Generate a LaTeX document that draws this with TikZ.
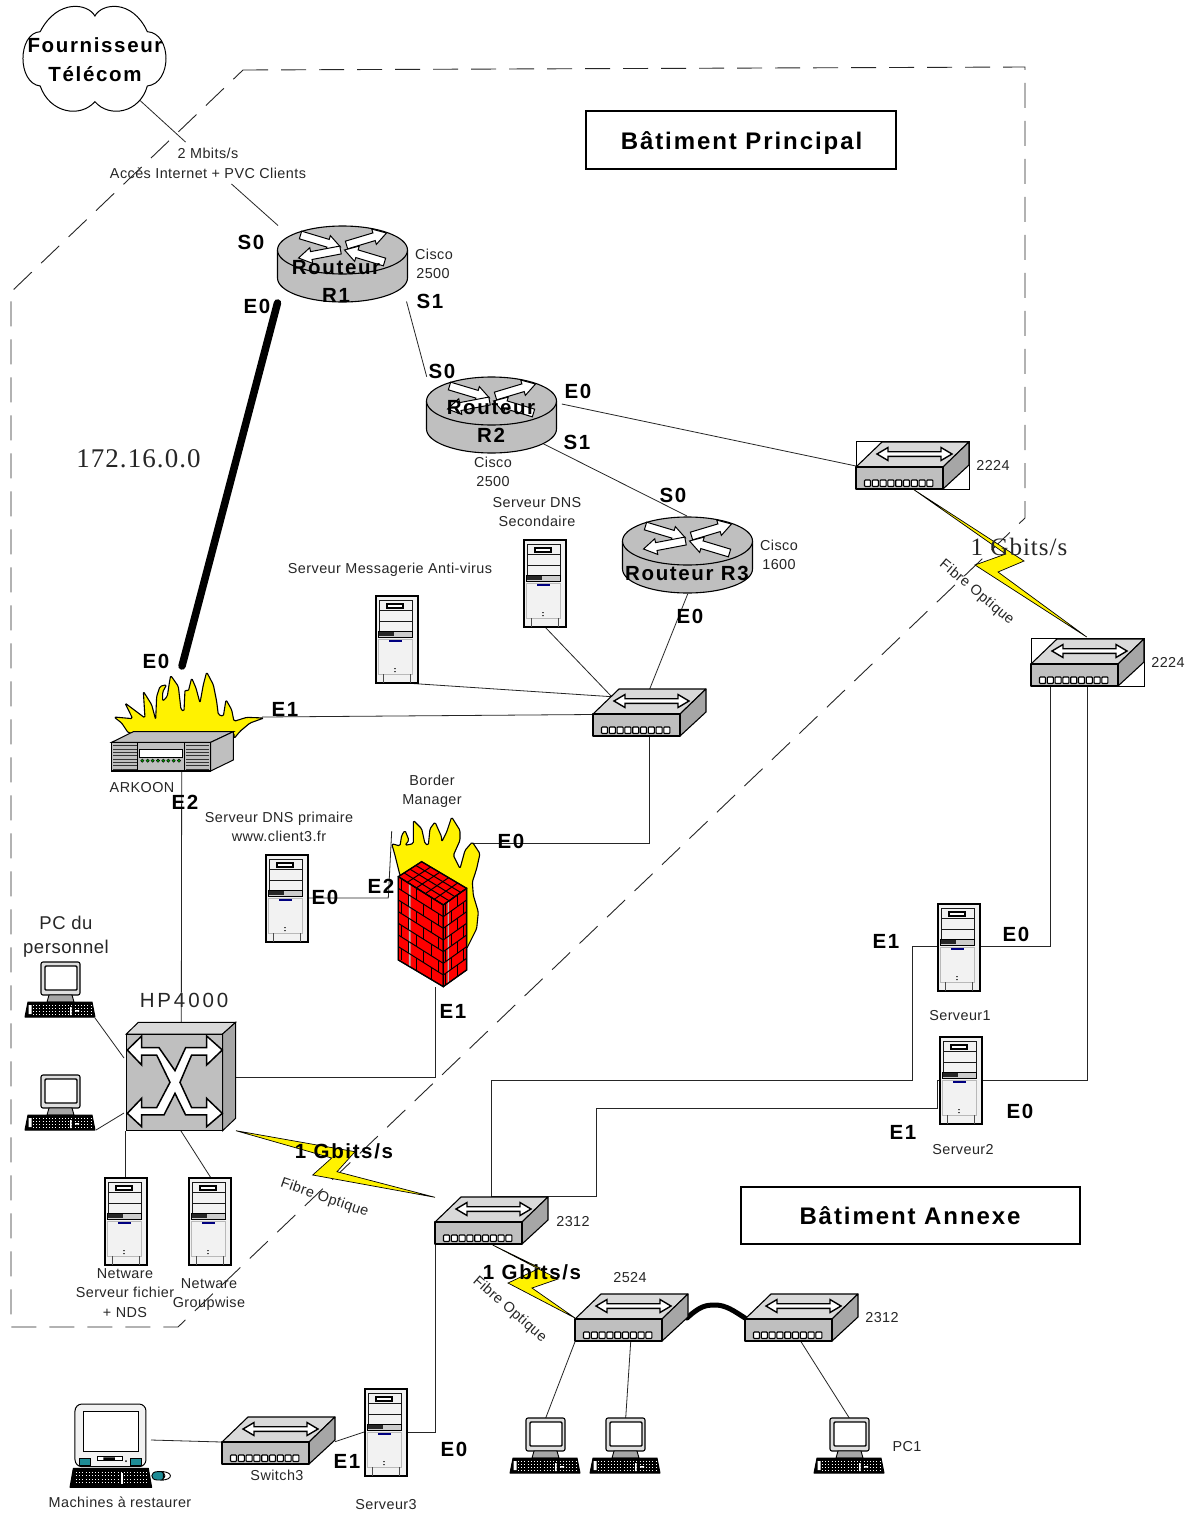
\documentclass[tikz,border=0pt]{standalone}
\usepackage{fontspec}
\setmainfont{Liberation Sans}
\newfontfamily\smf[LetterSpace=3]{Liberation Sans}
\newfontfamily\bdf[LetterSpace=8]{Liberation Sans}
\newfontfamily\wdf[LetterSpace=14]{Liberation Sans}
\newfontfamily\srf[LetterSpace=4]{Liberation Serif}
\usetikzlibrary{calc}
\definecolor{topc}{HTML}{D9D9D9}
\definecolor{midc}{HTML}{BFBFBF}
\definecolor{sidec}{HTML}{A6A6A6}
\definecolor{srvc}{HTML}{F2F2F2}
\definecolor{wallred}{HTML}{FF0000}
\definecolor{tealc}{HTML}{1E8C96}
\newcommand\sarrow[5]{\draw[fill=white,line width=1pt,line join=miter]
 ($(#1)!#3pt!90:(#2)$) -- ($(#2)!#4pt!(#1)!#3pt!-90:(#1)$) -- ($(#2)!#4pt!(#1)!#5pt!-90:(#1)$) -- (#2)
 -- ($(#2)!#4pt!(#1)!#5pt!90:(#1)$) -- ($(#2)!#4pt!(#1)!#3pt!90:(#1)$) -- ($(#1)!#3pt!-90:(#2)$) -- cycle;}
\newcommand\darrow[5]{\draw[fill=white,line width=1.4pt,line join=miter]
 (#1) -- ($(#1)!#4pt!(#2)!#5pt!90:(#2)$) -- ($(#1)!#4pt!(#2)!#3pt!90:(#2)$)
 -- ($(#2)!#4pt!(#1)!#3pt!-90:(#1)$) -- ($(#2)!#4pt!(#1)!#5pt!-90:(#1)$) -- (#2)
 -- ($(#2)!#4pt!(#1)!#5pt!90:(#1)$) -- ($(#2)!#4pt!(#1)!#3pt!90:(#1)$)
 -- ($(#1)!#4pt!(#2)!#3pt!-90:(#2)$) -- ($(#1)!#4pt!(#2)!#5pt!-90:(#2)$) -- cycle;}
\tikzset{
 x=1pt,y=-1pt,
 wire/.style={line width=.8pt,black!85},
 edge/.style={line width=1.1pt,black,line join=round},
 smalllbl/.style={font=\smf\fontsize{14.4}{16}\selectfont,inner sep=0pt,text=black!85,text height=10.3pt,text depth=0pt},
 ifacelbl/.style={font=\bdf\bfseries\fontsize{20.5}{22}\selectfont,inner sep=0pt,text=black,text height=14.7pt,text depth=0pt},
 biglbl/.style={font=\smf\fontsize{18.5}{20}\selectfont,inner sep=0pt,text=black!85,text height=13.2pt,text depth=0pt},
 hplbl/.style={font=\wdf\fontsize{20.5}{22}\selectfont,inner sep=0pt,text=black!85,text height=14.7pt,text depth=0pt},
 seriflbl/.style={font=\srf\fontsize{27}{28}\selectfont,inner sep=0pt,text=black!85,text height=17.5pt,text depth=0pt},
 gbitlbl/.style={font=\srf\fontsize{25}{28}\selectfont,inner sep=0pt,text=black!85,text height=16.5pt,text depth=0pt},
 titlelbl/.style={font=\bdf\bfseries\fontsize{24}{26}\selectfont,inner sep=0pt,text height=17.2pt,text depth=0pt},
 titlerect/.style={draw,line width=2pt,fill=white},
 bolt/.style={fill=yellow,draw=black,line width=.7pt,line join=miter},
 flame/.style={line width=1.1pt,fill=yellow,rounded corners=1.5pt,line join=round},
 pics/switchx/.style={code={
  \draw[edge,fill=topc] (0,0) -- (26,-25) -- (113,-25) -- (87,0) -- cycle;
  \draw[edge,fill=sidec] (87,0) -- (113,-25) -- (113,-2) -- (87,22) -- cycle;
  \draw[edge,fill=midc] (0,0) rectangle (87,22);
  \foreach \i in {0,...,8} {\draw[line width=1.1pt,fill=white,rounded corners=.8pt] ({8.5+\i*7.8},13) rectangle ({14.5+\i*7.8},19.5);}
  \darrow{21,-13}{96,-13}{2.3}{11}{6.5}
 }},
 pics/routerx/.style={code={
  \draw[edge,fill=midc] (-65,0) -- (-65,28) .. controls (-65,41.25) and (-36,52) .. (0,52) .. controls (36,52) and (65,41.25) .. (65,28) -- (65,0) -- cycle;
  \draw[edge,fill=midc] (-65,0) .. controls (-65,-13.25) and (-36,-24) .. (0,-24) .. controls (36,-24) and (65,-13.25) .. (65,0) .. controls (65,13.25) and (36,24) .. (0,24) .. controls (-36,24) and (-65,13.25) .. (-65,0) -- cycle;
  \sarrow{-42,-15}{-2,-3}{4}{13}{8}
  \sarrow{4,-5}{44,-17}{4}{13}{8}
  \sarrow{-2,0}{-44,8}{4}{13}{8}
  \sarrow{42,12}{2,0}{4}{13}{8}
 }},
 pics/srvx/.style={code={
  \draw[line width=1.1pt,fill=srvc] (0,0) rectangle (42,87);
  \draw[line width=.9pt,black!90,fill=srvc] (3,4) rectangle (36,35);
  \draw[line width=.9pt,black!90] (3,14) -- (36,14) (3,25) -- (36,25);
  \draw[line width=1.6pt,fill=white] (11,8) rectangle (27,12);
  \draw[line width=.5pt,fill=gray!40] (2.5,35.5) rectangle (36,41);
  \fill[black!85] (3,36) rectangle (18,39.5);
  \draw[line width=1pt,gray!55] (2.5,43) rectangle (36,78);
  \fill[blue!50!black] (13,43.5) rectangle (26,46);
  \fill[black!70] (18.2,72) rectangle (19.8,73) (18.2,75) rectangle (19.8,76);
  \draw[line width=.6pt,black!70] (7,78) -- (7,87) (34,78) -- (34,87);
 }},
 pics/keysx/.style={code={
  \draw[line width=1pt,fill=black,line join=round] (3,0) -- (67,0) -- (70,15) -- (0,15) -- cycle;
  \foreach \yy in {3,6,9,12} {\draw[white,line width=.7pt,dash pattern=on 1pt off 2.2pt] (8,\yy) -- (66,\yy);}
  \fill[white] (3.5,3) rectangle (6.5,12) (45,5) rectangle (46.5,13) (50,8) rectangle (54,9.5);
 }},
 pics/pcx/.style={code={
  \draw[line width=1.1pt,fill=gray!25,rounded corners=2pt] (16,0) rectangle (55,33);
  \draw[line width=1.4pt,fill=white,rounded corners=1pt] (20,4) rectangle (52,28);
  \draw[line width=.9pt,fill=gray!70] (24,33) -- (47,33) -- (49,40) -- (22,40) -- cycle;
  \pic at (0,40) {keysx};
 }}
}
\begin{document}
\begin{tikzpicture}
\useasboundingbox (0,0) rectangle (1199,1515);
\fill[white] (0,0) rectangle (1199,1515);
% icon anchors
\coordinate (swA) at (856,467);
\coordinate (swB) at (1031,664);
\coordinate (swC) at (593,714);
\coordinate (swD) at (435,1222);
\coordinate (swE) at (575,1319);
\coordinate (swF) at (745,1319);
\coordinate (swG) at (222,1442);
\coordinate (rtA) at (342.5,250);
\coordinate (rtB) at (491.5,401);
\coordinate (rtC) at (687.5,541);
% boundary
\draw[line width=.9pt,black!85,dash pattern=on 25pt off 13pt]
 (243,70) -- (1025,67) -- (1025,518) -- (178,1327) -- (11,1327) -- (11,292) -- cycle;
% free connector ends
\coordinate (a1) at (139.5,100); \coordinate (a2) at (185.5,142);
\coordinate (a3) at (231.5,184); \coordinate (a4) at (278,225.5);
\coordinate (a5) at (406.5,301.5); \coordinate (a6) at (426.7,376.7);
\coordinate (a7) at (277.5,303); \coordinate (a8) at (182,666);
\coordinate (a9) at (561.8,404); \coordinate (a10) at (856,466);
\coordinate (a11) at (533.9,439); \coordinate (a12) at (687,516);
\coordinate (a13) at (687.7,594); \coordinate (a14) at (649.3,690);
\coordinate (a15) at (545,627); \coordinate (a16) at (611.7,696.7);
\coordinate (a17) at (405,683); \coordinate (a18) at (262,717);
\coordinate (a19) at (593,714.5);
\coordinate (a20) at (649.3,737); \coordinate (a21) at (649.3,843); \coordinate (a22) at (471.7,843);
\coordinate (a23) at (181.7,771); \coordinate (a24) at (181.3,1022);
\coordinate (a25) at (308,898); \coordinate (a26) at (388.3,898); \coordinate (a27) at (391.7,831);
\coordinate (a28) at (435.7,987); \coordinate (a29) at (435.7,1077); \coordinate (a30) at (236,1077);
\coordinate (a31) at (95,1018); \coordinate (a32) at (124,1058);
\coordinate (a33) at (96,1130); \coordinate (a34) at (124,1113);
\coordinate (a35) at (125.7,1131); \coordinate (a36) at (125.7,1178);
\coordinate (a37) at (181,1131); \coordinate (a38) at (211,1178);
\coordinate (a39) at (1050.7,686); \coordinate (a40) at (1050.7,946); \coordinate (a41) at (980,946);
\coordinate (a42) at (1087.7,686); \coordinate (a43) at (1087.7,1080); \coordinate (a44) at (982,1080);
\coordinate (a45) at (938,946); \coordinate (a46) at (912.3,946); \coordinate (a47) at (912.3,1080); \coordinate (a48) at (491.7,1080); \coordinate (a49) at (491.7,1198);
\coordinate (a50) at (940.5,1080); \coordinate (a51) at (937.7,1080); \coordinate (a52) at (937.7,1108.3); \coordinate (a53) at (596.8,1108.3); \coordinate (a54) at (596.8,1196.7); \coordinate (a55) at (491.7,1196.7);
\coordinate (a56) at (435,1244); \coordinate (a57) at (435,1432); \coordinate (a58) at (407,1432);
\coordinate (a59) at (335,1441.7); \coordinate (a60) at (365,1431.7);
\coordinate (a61) at (151,1440); \coordinate (a62) at (221.7,1442);
\coordinate (a63) at (575,1341.7); \coordinate (a64) at (545.7,1418);
\coordinate (a65) at (630.7,1341.7); \coordinate (a66) at (625.7,1418);
\coordinate (a67) at (801,1341.7); \coordinate (a68) at (849.3,1418);
\coordinate (a69) at (687,1318); \coordinate (a70) at (745,1318);
% connectors
\draw[wire] (a1) -- (a2);
\draw[wire] (a3) -- (a4);
\draw[wire] (a5) -- (a6);
\draw[line width=7.5pt,line cap=round] (a7) -- (a8);
\draw[wire] (a9) -- (a10);
\draw[wire] (a11) -- (a12);
\draw[wire] (a13) -- (a14);
\draw[wire] (a15) -- (a16);
\draw[wire] (a17) -- (a16);
\draw[wire] (a18) -- (a19);
\draw[wire] (a20) -- (a21) -- (a22);
\draw[wire] (a23) -- (a24);
\draw[wire] (a25) -- (a26) -- (a27);
\draw[wire] (a28) -- (a29) -- (a30);
\draw[wire] (a31) -- (a32);
\draw[wire] (a33) -- (a34);
\draw[wire] (a35) -- (a36);
\draw[wire] (a37) -- (a38);
\draw[wire] (a39) -- (a40) -- (a41);
\draw[wire] (a42) -- (a43) -- (a44);
\draw[wire] (a45) -- (a46) -- (a47) -- (a48) -- (a49);
\draw[wire] (a50) -- (a51) -- (a52) -- (a53) -- (a54) -- (a55);
\draw[wire] (a56) -- (a57) -- (a58);
\draw[wire] (a59) -- (a60);
\draw[wire] (a61) -- (a62);
\draw[wire] (a63) -- (a64);
\draw[wire] (a65) -- (a66);
\draw[wire] (a67) -- (a68);
\draw[line width=5pt,line cap=round] (a69) .. controls (700,1306) and (706,1305) .. (715,1305) .. controls (726,1305) and (734,1311) .. (a70);
% cloud
\begin{scope}[xscale=.3827,yscale=.3333]
\draw[line width=1pt,fill=white] (248,48) .. controls (230,10) and (150,-5) .. (105,95)
 .. controls (45,100) and (45,250) .. (105,258)
 .. controls (130,340) and (210,355) .. (248,305)
 .. controls (285,355) and (365,340) .. (385,258)
 .. controls (450,250) and (450,100) .. (385,95)
 .. controls (345,-5) and (265,10) .. (248,48) -- cycle;
\end{scope}
% routers
\pic at (rtA) {routerx};
\pic at (rtB) {routerx};
\pic at (rtC) {routerx};
% switches
\draw[line width=.8pt] (856,441) rectangle (969,489);
\draw[line width=.8pt] (1031,638) rectangle (1144,686);
\pic at (swA) {switchx};
\pic at (swB) {switchx};
\pic at (swC) {switchx};
\pic at (swD) {switchx};
\pic at (swE) {switchx};
\pic at (swF) {switchx};
\pic at (swG) {switchx};
% servers
\pic at (266,855) {srvx};
\pic at (524,540) {srvx};
\pic at (376,596) {srvx};
\pic at (938,904) {srvx};
\pic at (940,1037) {srvx};
\pic at (365,1389) {srvx};
\pic at (105,1178) {srvx};
\pic at (189,1178) {srvx};
% PCs
\pic at (25,962) {pcx};
\pic at (25,1075) {pcx};
\pic at (510,1418) {pcx};
\pic at (590,1418) {pcx};
\pic at (814,1418) {pcx};
% ARKOON flame
\begin{scope}[shift={(110,668)},scale=.3333]
\draw[flame] (55,195) -- (35,165) -- (12,147) -- (68,152) -- (45,105) -- (105,150) -- (100,70) -- (125,110) -- (137,155) -- (140,85) -- (150,55) -- (170,50) -- (158,72) -- (158,100) -- (172,85) -- (178,45) -- (182,22) -- (205,55) -- (213,125) -- (222,130) -- (225,65) -- (235,70) -- (245,30) -- (258,60) -- (270,105) -- (280,50) -- (290,12) -- (310,50) -- (320,100) -- (325,140) -- (340,145) -- (348,95) -- (365,125) -- (372,160) -- (410,148) -- (462,150) -- (420,165) -- (390,190) -- (372,212) -- (372,195) -- cycle;
\end{scope}
% ARKOON box, Border Manager wall
\begin{scope}[shift={(90,650)},scale=.3333]
\draw[line width=1pt,fill=midc] (65,277) -- (130,245) -- (430,245) -- (362,277) -- cycle;
\draw[line width=1pt,fill=midc] (362,277) -- (430,245) -- (430,330) -- (362,363) -- cycle;
\draw[line width=1.2pt,fill=midc] (65,277) rectangle (362,363);
\draw[line width=.8pt] (143,277) -- (143,363) (283,277) -- (283,363);
\foreach \yy in {287,297,307,317,327,337,347,357} {\draw[line width=.6pt,black!80] (70,\yy) -- (140,\yy) (287,\yy) -- (358,\yy);}
\draw[line width=.6pt,fill=white] (147,297) rectangle (277,322);
\foreach \xx in {157,173,188,204,220,235,251,267} {\fill[green!60!black,draw=black,line width=.4pt] (\xx,332) circle (5);}
\end{scope}
\begin{scope}[shift={(385,812)},scale=.3333]
\draw[flame] (20,95) -- (45,102) -- (50,70) -- (60,55) -- (72,85) -- (60,100) -- (85,95) -- (85,25) -- (110,50) -- (120,95) -- (130,100) -- (135,50) -- (150,30) -- (170,75) -- (170,90) -- (185,60) -- (200,15) -- (225,55) -- (225,85) -- (205,130) -- (225,170) -- (240,115) -- (262,90) -- (285,125) -- (275,170) -- (262,210) -- (265,250) -- (280,300) -- (275,350) -- (245,410) -- (45,190) -- (30,130) -- cycle;
\end{scope}
\begin{scope}[shift={(90,650)},scale=.3333]
\draw[line width=1pt,fill=wallred] (925,680) -- (995,635) -- (1130,715) -- (1060,765) -- cycle;
\draw[line width=1pt,fill=wallred] (925,680) -- (1060,765) -- (1060,1010) -- (925,930) -- cycle;
\draw[line width=1pt,fill=wallred] (1060,765) -- (1130,715) -- (1130,960) -- (1060,1010) -- cycle;
\fill[gray!60] (957,700) -- (962,703) -- (962,950) -- (957,947) -- cycle;
\fill[gray!60] (1073,756) -- (1077,753) -- (1077,998) -- (1073,1001) -- cycle;
\foreach \i in {0,...,6} {
 \draw[line width=1pt] (925,{680+35*\i}) -- (1060,{765+35*\i}) (1060,{765+35*\i}) -- (1130,{715+35*\i});
 \pgfmathsetmacro\off{mod(\i,2)*22}
 \foreach \j in {0,1,2} {
  \pgfmathsetmacro\vx{925+\off+\j*45+10}
  \pgfmathsetmacro\vy{680+35*\i+(\vx-925)*.63}
  \draw[line width=1pt] (\vx,\vy) -- (\vx,\vy+35);
 }
 \pgfmathsetmacro\offb{mod(\i,2)*18}
 \foreach \j in {0,1} {
  \pgfmathsetmacro\wx{1060+\offb+\j*36+8}
  \pgfmathsetmacro\wy{765+35*\i-(\wx-1060)*.714}
  \draw[line width=1pt] (\wx,\wy) -- (\wx,\wy+35);
 }
}
\foreach \t in {.25,.5,.75} {
 \draw[line width=1pt] ($(925,680)!\t!(995,635)$) -- ($(1060,765)!\t!(1130,715)$);
}
\foreach \t in {.2,.4,.6,.8} {
 \draw[line width=1pt] ($(925,680)!\t!(1060,765)$) -- ($(995,635)!\t!(1130,715)$);
}
\draw[line width=1.3pt] (925,680) -- (995,635) -- (1130,715) -- (1130,960) -- (1060,1010) -- (925,930) -- cycle (925,680) -- (1060,765) -- (1130,715) (1060,765) -- (1060,1010);
\end{scope}
% HP4000
\begin{scope}[shift={(10,950)},scale=.3333]
\draw[line width=1pt,fill=topc] (349,252) -- (385,217) -- (677,217) -- (638,252) -- cycle;
\draw[line width=1pt,fill=sidec] (638,252) -- (677,217) -- (677,505) -- (638,542) -- cycle;
\draw[line width=1pt,fill=midc] (349,252) rectangle (638,542);
\draw[line width=1.5pt,fill=white,line join=miter] (352,300) -- (395,258) -- (395,293) -- (447,293) -- (495,362) -- (527,293) -- (590,293) -- (590,258) -- (637,300) -- (590,345) -- (590,315) -- (545,315) -- (510,397) -- (545,473) -- (590,473) -- (590,445) -- (637,490) -- (590,530) -- (590,495) -- (527,495) -- (495,430) -- (462,495) -- (395,495) -- (395,530) -- (352,490) -- (395,445) -- (395,473) -- (440,473) -- (480,397) -- (440,315) -- (395,315) -- (395,345) -- cycle;
\end{scope}
% iMac
\begin{scope}[shift={(40,1380)},scale=.3333]
\draw[line width=1pt,fill=srvc,rounded corners=7pt] (105,72) rectangle (318,260);
\draw[line width=1pt,fill=white] (130,95) rectangle (295,215);
\draw[line width=.8pt,fill=tealc] (118,235) rectangle (150,255) (272,235) rectangle (305,255);
\draw[line width=.7pt,fill=white] (172,230) rectangle (248,242);
\fill[black] (190,232) rectangle (225,240) (258,243) circle (3);
\draw[line width=1pt,fill=black,line join=round] (100,265) -- (325,265) -- (335,322) -- (90,322) -- cycle;
\foreach \yy in {277,287,297,307} {\draw[white,line width=.7pt,dash pattern=on 1pt off 2.2pt] (108,\yy) -- (322,\yy);}
\fill[white] (242,280) rectangle (248,312);
\draw[line width=.9pt,fill=tealc] (370,275) -- (352,275) .. controls (330,275) and (330,300) .. (352,300) -- (370,300) -- cycle;
\draw[line width=.9pt,fill=white] (365,275) .. controls (400,275) and (400,300) .. (365,300) .. controls (378,290) and (378,285) .. (365,275) -- cycle;
\end{scope}
% bolts
\draw[bolt] (913.3,489.3) -- (1005.7,554) -- (975,565) -- (1086.7,637) -- (998,572) -- (1024,561) -- cycle;
\draw[bolt] (236,1130.7) -- (331.7,1158) -- (312.7,1175) -- (435,1197.3) -- (337,1171.7) -- (355,1151.7) -- cycle;
\draw[bolt] (492.7,1245) -- (540,1268) -- (508,1283) -- (575,1318) -- (532,1288) -- (558,1279) -- cycle;
% text
\node[ifacelbl] (t1) at (95,45.5) {Fournisseur};
\node[ifacelbl] (t2) at (95,74.5) {Télécom};
\node[smalllbl] (t3) at (208,153.5) {2 Mbits/s};
\node[smalllbl] (t4) at (208,173.5) {Accès Internet + PVC Clients};
\path[titlerect] (586,111) rectangle (896,169);
\path[titlerect] (741,1187) rectangle (1080,1244);
\node[titlelbl] (t5) at (741.5,140.5) {Bâtiment Principal};
\node[titlelbl] (t6) at (910,1215.5) {Bâtiment Annexe};
\node[ifacelbl] (t7) at (251,242.5) {S0};
\node[smalllbl] (t8) at (434,254.5) {Cisco};
\node[smalllbl] (t9) at (433,273.5) {2500};
\node[ifacelbl] (t10) at (257,306.5) {E0};
\node[ifacelbl] (t11) at (430,301.5) {S1};
\node[ifacelbl] (t12) at (336,267.5) {Routeur};
\node[ifacelbl] (t13) at (336,295.5) {R1};
\node[ifacelbl] (t14) at (442,371.5) {S0};
\node[ifacelbl] (t15) at (491,407.5) {Routeur};
\node[ifacelbl] (t16) at (491,435.5) {R2};
\node[ifacelbl] (t17) at (578,391.5) {E0};
\node[ifacelbl] (t18) at (577,442.5) {S1};
\node[smalllbl] (t19) at (493,462.5) {Cisco};
\node[smalllbl] (t20) at (493,481.5) {2500};
\node[seriflbl] (t21) at (138.5,458.5) {172.16.0.0};
\node[smalllbl] (t22) at (537,502.5) {Serveur DNS};
\node[smalllbl] (t23) at (537,521.5) {Secondaire};
\node[ifacelbl] (t24) at (673,495.5) {S0};
\node[smalllbl] (t25) at (779,545.5) {Cisco};
\node[smalllbl] (t26) at (779,564.5) {1600};
\node[ifacelbl] (t27) at (687,573.5) {Routeur R3};
\node[ifacelbl] (t28) at (690,616.5) {E0};
\node[smalllbl] (t29) at (390,568.5) {Serveur Messagerie Anti-virus};
\node[smalllbl] (t30) at (993,465.5) {2224};
\node[gbitlbl] (t31) at (1019,547.5) {1 Gbits/s};
\node[smalllbl,rotate=-40] (t32) at (977.5,591.5) {Fibre Optique};
\node[smalllbl] (t33) at (1168,662.5) {2224};
\node[ifacelbl] (t34) at (156,661.5) {E0};
\node[ifacelbl] (t35) at (285,709.5) {E1};
\node[smalllbl] (t36) at (142,787.5) {ARKOON};
\node[ifacelbl] (t37) at (185,802.5) {E2};
\node[smalllbl] (t38) at (432,780.5) {Border};
\node[smalllbl] (t39) at (432,799.5) {Manager};
\node[ifacelbl] (t40) at (511,841.5) {E0};
\node[smalllbl] (t41) at (279,817.5) {Serveur DNS primaire};
\node[smalllbl] (t42) at (279,836.5) {www.client3.fr};
\node[ifacelbl] (t43) at (325,897.5) {E0};
\node[ifacelbl] (t44) at (381,886.5) {E2};
\node[biglbl] (t45) at (66,922.5) {PC du};
\node[biglbl] (t46) at (66,946.5) {personnel};
\node[hplbl] (t47) at (184,1000.5) {HP4000};
\node[ifacelbl] (t48) at (453,1011.5) {E1};
\node[ifacelbl] (t49) at (886,941.5) {E1};
\node[ifacelbl] (t50) at (1016,934.5) {E0};
\node[smalllbl] (t51) at (960,1015.5) {Serveur1};
\node[ifacelbl] (t52) at (903,1132.5) {E1};
\node[ifacelbl] (t53) at (1020,1111.5) {E0};
\node[smalllbl] (t54) at (963,1149.5) {Serveur2};
\node[ifacelbl] (t55) at (344,1151.5) {1 Gbits/s};
\node[smalllbl,rotate=-19] (t56) at (325,1196.7) {Fibre Optique};
\node[smalllbl] (t57) at (573,1221.5) {2312};
\node[ifacelbl] (t58) at (532,1272.5) {1 Gbits/s};
\node[smalllbl,rotate=-41] (t59) at (510.5,1308.5) {Fibre Optique};
\node[smalllbl] (t60) at (630,1277.5) {2524};
\node[smalllbl] (t61) at (882,1317.5) {2312};
\node[smalllbl] (t62) at (125,1273.5) {Netware};
\node[smalllbl] (t63) at (125,1292.5) {Serveur fichier};
\node[smalllbl] (t64) at (125,1312.5) {+ NDS};
\node[smalllbl] (t65) at (209,1283.5) {Netware};
\node[smalllbl] (t66) at (209,1302.5) {Groupwise};
\node[smalllbl] (t67) at (907,1446.5) {PC1};
\node[smalllbl] (t68) at (120,1502.5) {Machines à restaurer};
\node[smalllbl] (t69) at (277,1475.5) {Switch3};
\node[ifacelbl] (t70) at (347,1461.5) {E1};
\node[smalllbl] (t71) at (386,1504.5) {Serveur3};
\node[ifacelbl] (t72) at (454,1449.5) {E0};
\end{tikzpicture}
\end{document}
